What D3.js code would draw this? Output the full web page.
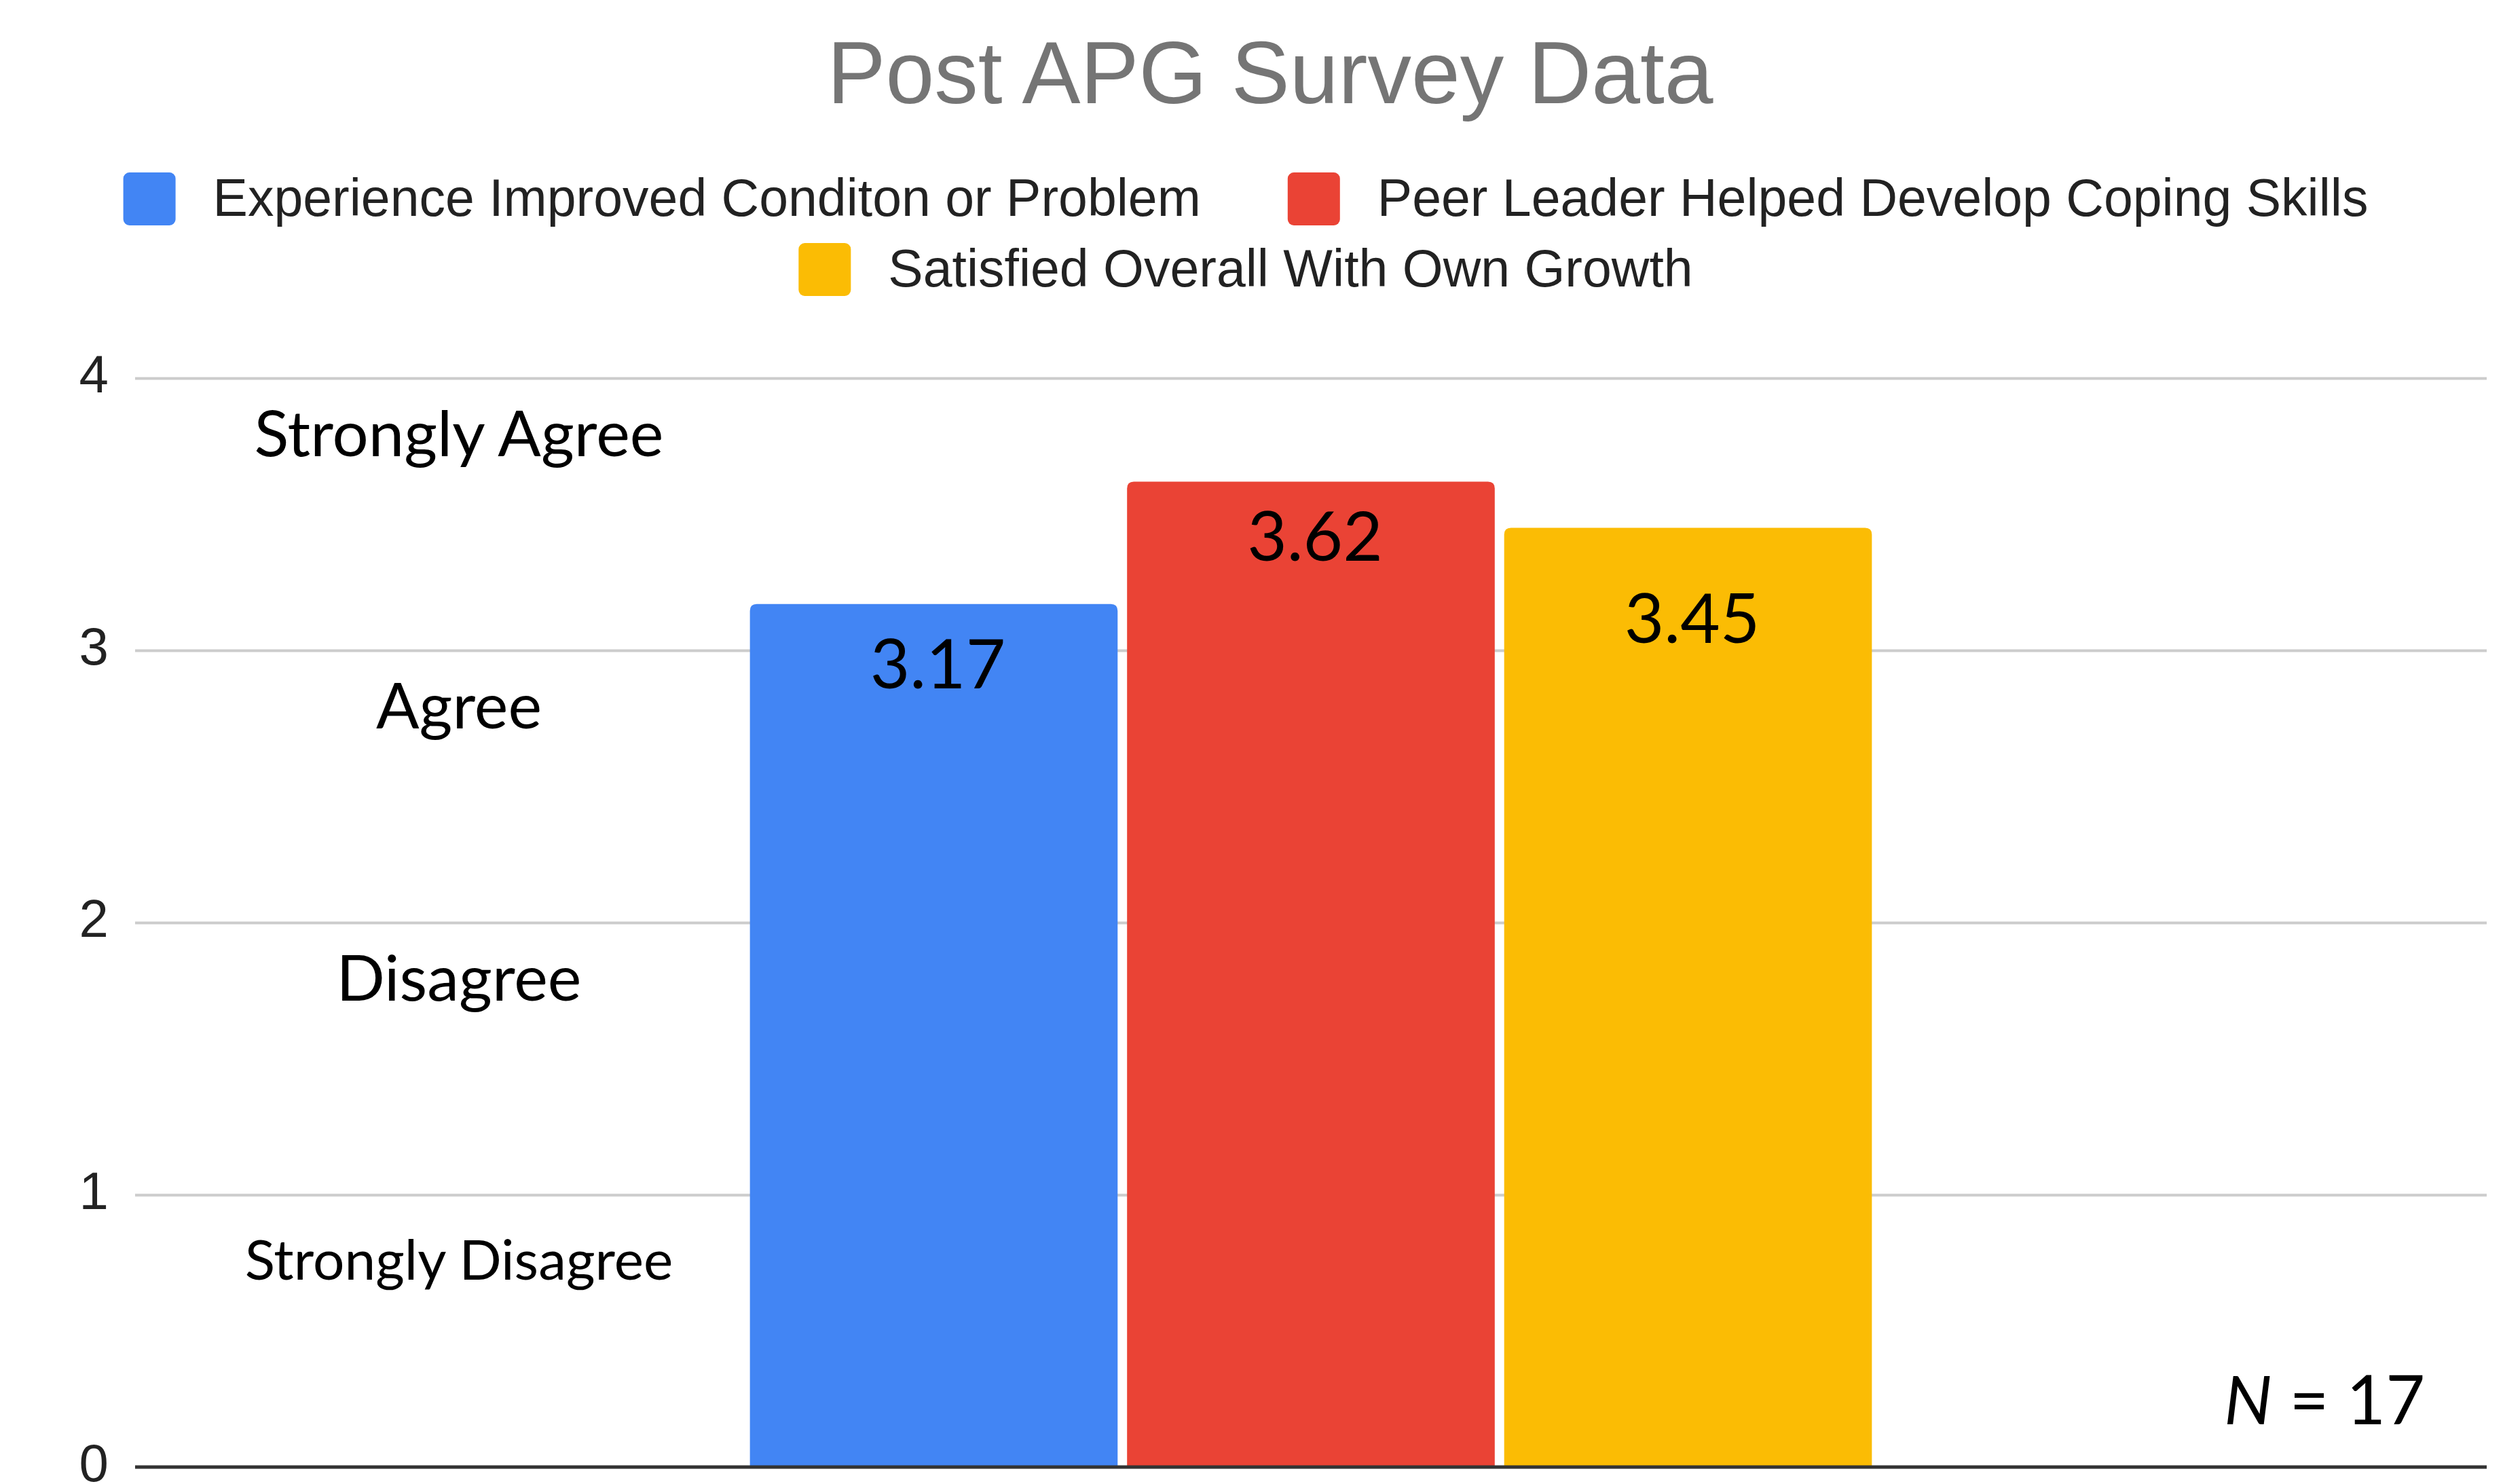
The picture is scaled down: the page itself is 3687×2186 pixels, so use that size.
<!DOCTYPE html>
<html lang="en">
<head>
<meta charset="utf-8">
<title>Post APG Survey Data</title>
<script src="https://cdn.jsdelivr.net/npm/d3@7"></script>
<style>
	body { margin: 0; background: #fff; }
	svg { display: block; }
</style>
</head>
<body>
<script>
	// chart values
	var categories = [""];
	var seriesNames = ["Experience Improved Conditon or Problem", "Peer Leader Helped Develop Coping Skills", "Satisfied Overall With Own Growth"];
	var seriesValues = [3.17, 3.62, 3.45];
	var seriesColors = ["#4285f4", "#ea4335", "#fbbc04"];
	var yTicks = [0, 1, 2, 3, 4];
	var scaleLevels = [4, 3, 2, 1];
	var scaleLabels = ["Strongly Agree", "Agree", "Disagree", "Strongly Disagree"];
	var sampleSize = 17;

	var svgWidth = 3687,
		svgHeight = 2186,
		margin = {top: 557, right: 24, bottom: 25, left: 199},
		width = svgWidth - margin.left - margin.right,
		height = svgHeight - margin.top - margin.bottom,
		svg = d3.select("body")
			.append("svg")
			.attr("width", svgWidth)
			.attr("height", svgHeight),
		g = svg.append("g").attr("transform", "translate(" + margin.left + "," + margin.top + ")");

	var sansFont = "'Liberation Sans', Arial, sans-serif",
		noteFont = "Lato, 'Open Sans', sans-serif";

	svg.append("rect").attr("width", svgWidth).attr("height", svgHeight).attr("fill", "#fff").lower();

	var data = seriesNames.map(function(name, i) {
		return {category: categories[0], name: name, value: seriesValues[i], color: seriesColors[i]};
	});

	var x0 = d3.scaleBand()
		.domain(categories)
		.range([0, width])
		.paddingInner(0)
		.paddingOuter(0.548);

	var x1 = d3.scaleBand()
		.domain(seriesNames)
		.range([0, x0.bandwidth()])
		.paddingInner(0.025);

	var y = d3.scaleLinear()
		.domain([0, 4])
		.range([height, 0]);

	// title
	svg.append("text")
		.attr("x", 1871)
		.attr("y", 152)
		.attr("text-anchor", "middle")
		.attr("font-family", sansFont)
		.attr("font-size", 129)
		.attr("fill", "#757575")
		.text("Post APG Survey Data");

	// legend, two rows centred
	var legendRows = [[0, 1], [2]],
		legendBase = [318, 422],
		legendCenter = 1835,
		swatch = 77, swatchGap = 55, itemGap = 128;

	var legend = svg.append("g")
		.attr("font-family", sansFont)
		.attr("font-size", 77)
		.attr("fill", "#222");

	legendRows.forEach(function(row, r) {
		var items = row.map(function(i) {
			var grp = legend.append("g");
			grp.append("rect")
				.attr("width", swatch)
				.attr("height", 78)
				.attr("rx", 9)
				.attr("y", -64)
				.attr("fill", seriesColors[i]);
			var t = grp.append("text")
				.attr("x", swatch + swatchGap)
				.text(seriesNames[i]);
			return {g: grp, w: swatch + swatchGap + t.node().getComputedTextLength()};
		});
		var total = d3.sum(items, function(d) { return d.w; }) + itemGap * (items.length - 1);
		var cx = legendCenter - total / 2;
		items.forEach(function(it) {
			it.g.attr("transform", "translate(" + cx + "," + legendBase[r] + ")");
			cx += it.w + itemGap;
		});
	});

	// gridlines + tick labels
	var gy = g.append("g")
		.call(d3.axisLeft(y)
			.tickValues(yTicks)
			.tickSizeInner(-width)
			.tickSizeOuter(0)
			.tickPadding(39)
			.tickFormat(d3.format("d")));

	gy.select(".domain").remove();
	gy.selectAll(".tick line")
		.attr("stroke", "#cccccc")
		.attr("stroke-width", 4);
	gy.selectAll(".tick text")
		.attr("font-family", sansFont)
		.attr("font-size", 78)
		.attr("fill", "#222")
		.attr("dy", "0.26em");

	// bars with rounded top corners
	function topRounded(x, yy, w, h, r) {
		return "M" + x + "," + (yy + h) +
			"V" + (yy + r) +
			"Q" + x + "," + yy + " " + (x + r) + "," + yy +
			"H" + (x + w - r) +
			"Q" + (x + w) + "," + yy + " " + (x + w) + "," + (yy + r) +
			"V" + (yy + h) + "Z";
	}

	var barG = g.append("g")
		.attr("transform", "translate(" + x0(categories[0]) + ",0)");

	barG.selectAll(".bar")
		.data(data)
		.enter().append("path")
		.attr("class", "bar")
		.attr("fill", function(d) { return d.color; })
		.attr("d", function(d) {
			return topRounded(x1(d.name), y(d.value), x1.bandwidth(), y(0) - y(d.value), 10);
		});

	// value labels inside bars (hand placed in the original)
	var labelDrop = [124, 117, 169];
	barG.selectAll(".val")
		.data(data)
		.enter().append("text")
		.attr("class", "val")
		.attr("x", function(d) { return x1(d.name) + x1.bandwidth() / 2 + 6; })
		.attr("y", function(d, i) { return y(d.value) + labelDrop[i]; })
		.attr("text-anchor", "middle")
		.attr("font-family", noteFont)
		.attr("font-size", 101)
		.attr("fill", "#000")
		.text(function(d) { return d3.format(".2f")(d.value); });

	// baseline
	g.append("line")
		.attr("x1", 0)
		.attr("x2", width)
		.attr("y1", y(0))
		.attr("y2", y(0))
		.attr("stroke", "#333")
		.attr("stroke-width", 5);

	// agreement scale labels
	g.append("g")
		.attr("font-family", noteFont)
		.attr("fill", "#000")
		.attr("text-anchor", "middle")
		.selectAll("text")
		.data(scaleLabels)
		.enter().append("text")
		.attr("x", 676 - margin.left)
		.attr("y", function(d, i) { return y(scaleLevels[i]) + (i === 3 ? 125 : 115); })
		.attr("font-size", function(d, i) { return i === 3 ? 82 : 94; })
		.text(function(d) { return d; });

	// sample size note
	var note = svg.append("text")
		.attr("x", 3276)
		.attr("y", 2098)
		.attr("font-family", noteFont)
		.attr("font-size", 100)
		.attr("fill", "#000");
	note.append("tspan").attr("font-style", "italic").text("N");
	note.append("tspan").text(" = " + sampleSize);
</script>
</body>
</html>
